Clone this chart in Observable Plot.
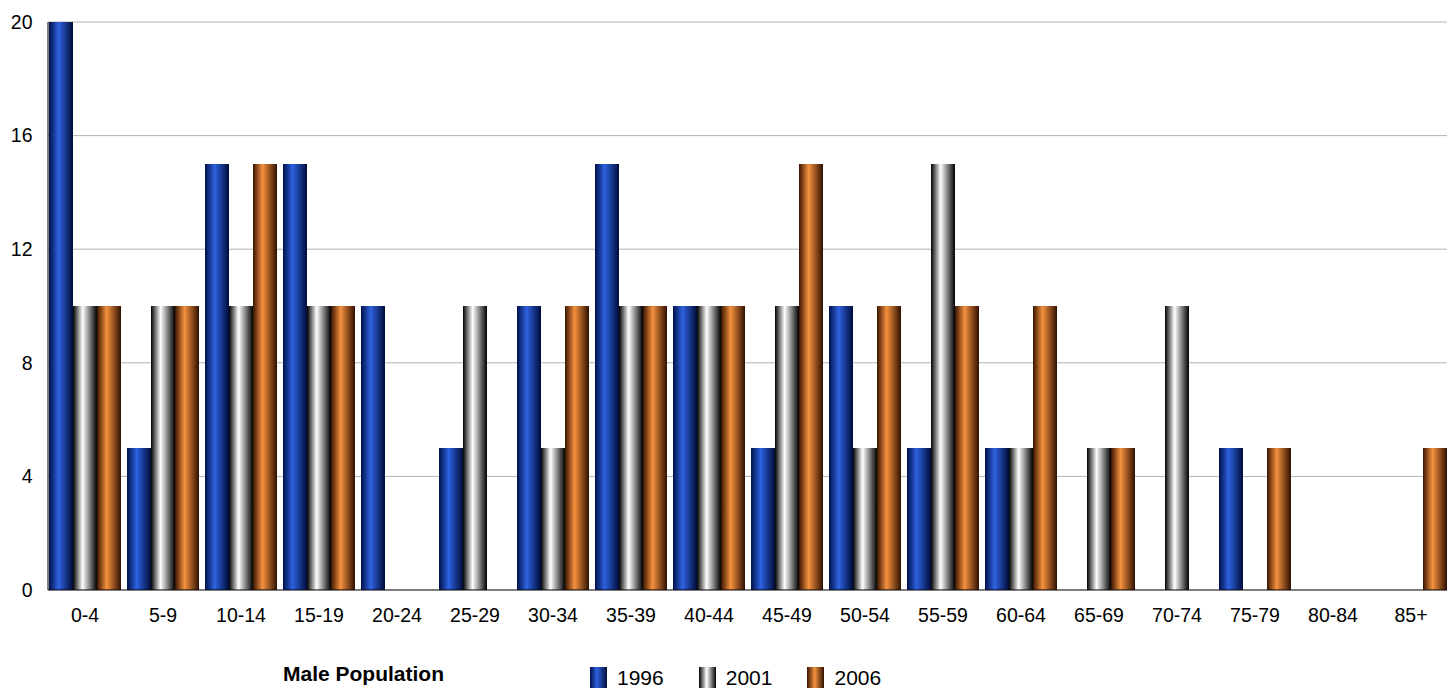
<!DOCTYPE html>
<html><head><meta charset="utf-8">
<script src="https://cdn.jsdelivr.net/npm/d3@7"></script>
<script src="https://cdn.jsdelivr.net/npm/@observablehq/plot@0.6"></script>
<style>
body{margin:0;background:#fff;font-family:"Liberation Sans",Arial,sans-serif}
#foot{position:relative;height:44px;font-size:21px}
.sw{display:inline-block;width:17px;height:21px;vertical-align:-3px;margin-right:10px}
</style></head><body>
<div id="chart"></div>
<div id="foot">
  <span style="position:absolute;left:283px;top:12px;font-weight:bold">Male Population</span>
  <span style="position:absolute;left:590px;top:16px">
    <span class="sw" style="background:linear-gradient(90deg,#00104a,#2e62e0 40%,#000c3a)"></span>1996&nbsp;&nbsp;&nbsp;&nbsp;&nbsp;
    <span class="sw" style="background:linear-gradient(90deg,#000,#fff 45%,#000)"></span>2001&nbsp;&nbsp;&nbsp;&nbsp;&nbsp;
    <span class="sw" style="background:linear-gradient(90deg,#3a1400,#f5913e 45%,#301000)"></span>2006
  </span>
</div>
<script>
const groups = ["0-4","5-9","10-14","15-19","20-24","25-29","30-34","35-39","40-44","45-49","50-54","55-59","60-64","65-69","70-74","75-79","80-84","85+"]
const years = ["1996","2001","2006"]
const v1996 = [20,5,15,15,10,5,10,15,10,5,10,5,5,0,0,5,0,0]
const v2001 = [10,10,10,10,0,10,5,10,10,10,5,15,5,5,10,0,0,0]
const v2006 = [10,10,15,10,0,0,10,10,10,15,10,10,10,5,0,5,0,5]
const series = [v1996, v2001, v2006]
const yTicks = [0,4,8,12,16,20]

const data = []
groups.forEach((g, i) => years.forEach((y, j) => data.push({group: g, year: y, value: series[j][i]})))

let chart = Plot.plot({
  width: 1447,
  height: 650,
  marginLeft: 48,
  marginRight: 0,
  marginTop: 22,
  marginBottom: 60,
  style: {fontSize: '19.5px', fontFamily: '"Liberation Sans",Arial,sans-serif', color: '#000'},
  fx: {domain: groups, padding: 0.07, label: null, axis: 'bottom', tickSize: 0, tickPadding: 18},
  x: {domain: years, padding: 0, axis: null},
  y: {domain: [0, 20], ticks: yTicks, label: null, tickSize: 0, tickPadding: 16},
  color: {domain: years, range: ['url(#g1996)','url(#g2001)','url(#g2006)']},
  marks: [
    Plot.barY(data, {fx: 'group', x: 'year', y: 'value', fill: 'year', inset: 0}),
  ],
})

const svg = d3.select(chart)
const defs = svg.insert('defs', ':first-child')
const grads = {
  g1996: ['#00104a','#2e62e0','#000c3a'],
  g2001: ['#000000','#ffffff','#000000'],
  g2006: ['#3a1400','#f5913e','#301000'],
}
for (const [id, c] of Object.entries(grads)) {
  const lg = defs.append('linearGradient').attr('id', id).attr('x1', 0).attr('x2', 1).attr('y1', 0).attr('y2', 0)
  lg.append('stop').attr('offset', '0%').attr('stop-color', c[0])
  lg.append('stop').attr('offset', '40%').attr('stop-color', c[1])
  lg.append('stop').attr('offset', '100%').attr('stop-color', c[2])
}
// full-width grid and axis lines from the chart's own y scale
const ys = chart.scale('y')
const y0 = ys.apply(0), yTop = ys.apply(20)
const grid = svg.insert('g', 'defs + *')
for (const t of yTicks.slice(1)) {
  grid.append('line').attr('x1', 48).attr('x2', 1447).attr('y1', ys.apply(t)).attr('y2', ys.apply(t)).attr('stroke', '#b3b3b3')
}
svg.append('line').attr('x1', 48).attr('x2', 1447).attr('y1', y0).attr('y2', y0).attr('stroke', '#000')
svg.append('line').attr('x1', 48).attr('x2', 48).attr('y1', yTop).attr('y2', y0).attr('stroke', '#000')
d3.select('#chart').append(() => chart)
</script>
</body></html>
